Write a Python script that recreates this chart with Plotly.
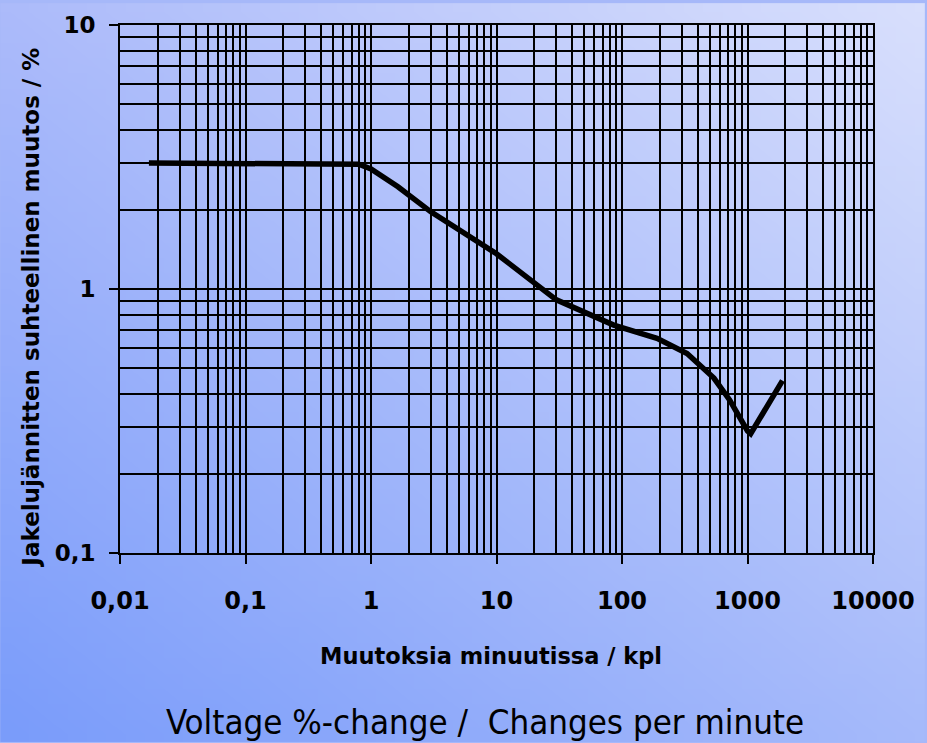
import base64, struct, zlib
import plotly.graph_objects as go

# ---- data ----
changes_per_min = [0.017, 0.1, 0.5, 0.8, 1.0, 1.64, 3, 10, 30, 86, 190, 330, 540, 720, 1000, 1060, 1900]
voltage_change = [3.0, 3.0, 3.0, 2.97, 2.85, 2.44, 1.96, 1.36, 0.91, 0.73, 0.65, 0.57, 0.46, 0.38, 0.29, 0.283, 0.45]

x_tick_vals = [0.01, 0.1, 1, 10, 100, 1000, 10000]
x_tick_text = ["0,01", "0,1", "1", "10", "100", "1000", "10000"]
y_tick_vals = [0.1, 1, 10]
y_tick_text = ["0,1", "1", "10"]
x_minor = [m * d for d in [0.01, 0.1, 1, 10, 100, 1000] for m in range(2, 10)]
y_minor = [m * d for d in [0.1, 1] for m in range(2, 10)]

y_title = "Jakelujännitten suhteellinen muutos / %"
x_title = "Muutoksia minuutissa / kpl"
caption = "Voltage %-change /  Changes per minute"

# ---- background gradient image ----
def gradient_png(w, h, tl, tr, bl, br):
    rows = b""
    for j in range(h):
        v = j / (h - 1)
        row = b"\x00"
        for i in range(w):
            u = i / (w - 1)
            px = []
            for c in range(3):
                top = tl[c] * (1 - u) + tr[c] * u
                bot = bl[c] * (1 - u) + br[c] * u
                px.append(int(round(top * (1 - v) + bot * v)))
            row += bytes(px)
        rows += row
    def chunk(t, d):
        c = struct.pack(">I", len(d)) + t + d
        return c + struct.pack(">I", zlib.crc32(t + d) & 0xffffffff)
    png = b"\x89PNG\r\n\x1a\n"
    png += chunk(b"IHDR", struct.pack(">IIBBBBB", w, h, 8, 2, 0, 0, 0))
    png += chunk(b"IDAT", zlib.compress(rows))
    png += chunk(b"IEND", b"")
    return "data:image/png;base64," + base64.b64encode(png).decode()

bg = gradient_png(48, 48, (172, 187, 250), (216, 223, 252), (122, 156, 250), (166, 186, 250))

W, H = 927, 743
L, R, T, B = 120, 52, 22, 190
pw, ph = W - L - R, H - T - B

fig = go.Figure()
fig.add_trace(go.Scatter(
    x=changes_per_min, y=voltage_change, mode="lines",
    line=dict(color="black", width=5.5), showlegend=False, hoverinfo="skip"))

axis_common = dict(
    type="log", showline=True, linecolor="black", linewidth=2, mirror=True,
    showgrid=True, gridcolor="black", gridwidth=2, zeroline=False,
    ticks="outside", ticklen=9, tickwidth=2, tickcolor="black",
)

fig.update_xaxes(
    **axis_common, range=[-2, 4], tickvals=x_tick_vals, ticktext=x_tick_text,
    ticklabelstandoff=16,
    tickfont=dict(family="DejaVu Sans", size=24, color="black", weight="bold"),
    minor=dict(tickvals=x_minor, showgrid=True, gridcolor="black", gridwidth=2, ticks=""))
fig.update_yaxes(
    **axis_common, range=[-1, 1], tickvals=y_tick_vals, ticktext=y_tick_text,
    ticklabelstandoff=9,
    tickfont=dict(family="DejaVu Sans", size=23, color="black", weight="bold"),
    minor=dict(tickvals=y_minor, showgrid=True, gridcolor="black", gridwidth=2, ticks=""))

fig.add_layout_image(dict(
    source=bg, xref="paper", yref="paper",
    x=-L / pw, y=1 + T / ph, sizex=W / pw, sizey=H / ph,
    xanchor="left", yanchor="top", sizing="stretch", layer="below"))

fig.add_annotation(text=y_title, xref="paper", yref="paper",
                   x=(31 - L) / pw, y=(H - B - 306) / ph, textangle=-90, showarrow=False,
                   xanchor="center", yanchor="middle",
                   font=dict(family="DejaVu Sans", size=23, color="black", weight="bold"))
fig.add_annotation(text=x_title, xref="paper", yref="paper",
                   x=(492 - L) / pw, y=-(657 - (H - B)) / ph, showarrow=False,
                   xanchor="center", yanchor="middle",
                   font=dict(family="DejaVu Sans", size=22.5, color="black", weight="bold"))
fig.add_annotation(text=caption, xref="paper", yref="paper",
                   x=(486 - L) / pw, y=-(723 - (H - B)) / ph, showarrow=False,
                   xanchor="center", yanchor="middle",
                   font=dict(family="DejaVu Sans Condensed", size=34.6, color="black"))

fig.update_layout(
    width=W, height=H, autosize=False,
    margin=dict(l=L, r=R, t=T, b=B),
    paper_bgcolor="#a6b8f9", plot_bgcolor="rgba(0,0,0,0)",
)

fig.write_html("out.html", config={"displayModeBar": False},
               post_script="document.body.style.margin='0';")
